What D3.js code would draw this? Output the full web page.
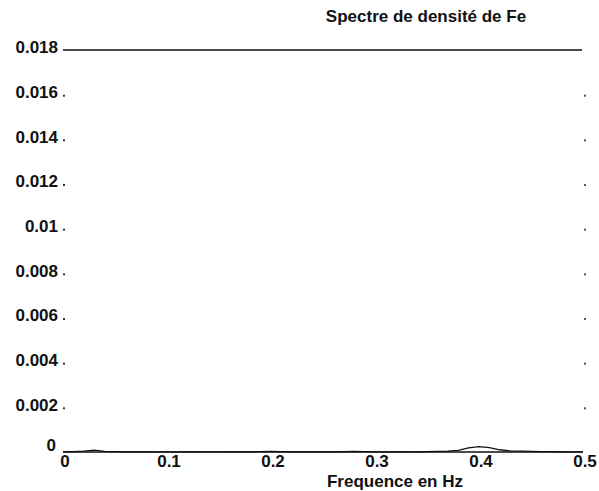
<!DOCTYPE html>
<html><head><meta charset="utf-8">
<script src="https://cdn.jsdelivr.net/npm/d3@7"></script>
<style>body{margin:0;background:#fff}svg{display:block}text{font-family:"Liberation Sans",Arial,sans-serif;fill:#111}</style>
</head><body><svg id="c" width="599" height="491"></svg>
<script>
const titleText = "Spectre de densité de Fe";
const xLabelText = "Frequence en Hz";
const xTicks = [0, 0.1, 0.2, 0.3, 0.4, 0.5];
const xTickLabels = ["0", "0.1", "0.2", "0.3", "0.4", "0.5"];
const yTicks = [0, 0.002, 0.004, 0.006, 0.008, 0.01, 0.012, 0.014, 0.016, 0.018];
const yTickLabels = ["0", "0.002", "0.004", "0.006", "0.008", "0.01", "0.012", "0.014", "0.016", "0.018"];
const freq = [0, 0.01, 0.02, 0.03, 0.04, 0.05, 0.06, 0.07, 0.08, 0.09, 0.10, 0.11, 0.12, 0.13, 0.14, 0.15, 0.16, 0.17, 0.18, 0.19, 0.20, 0.21, 0.22, 0.23, 0.24, 0.25, 0.26, 0.27, 0.28, 0.29, 0.30, 0.31, 0.32, 0.33, 0.34, 0.35, 0.36, 0.37, 0.38, 0.39, 0.40, 0.41, 0.42, 0.43, 0.44, 0.45, 0.46, 0.47, 0.48, 0.49, 0.50];
const psd = [0.00001, 0.00002, 0.00004, 0.00008, 0.00003, 0.00002, 0.00001, 0.00002, 0.00001, 0.00001, 0.00001, 0.00001, 0.00002, 0.00001, 0.00001, 0.00001, 0.00001, 0.00002, 0.00001, 0.00002, 0.00003, 0.00002, 0.00001, 0.00001, 0.00002, 0.00001, 0.00001, 0.00002, 0.00003, 0.00002, 0.00001, 0.00001, 0.00002, 0.00001, 0.00001, 0.00002, 0.00003, 0.00004, 0.00007, 0.00018, 0.00024, 0.00020, 0.00010, 0.00005, 0.00004, 0.00003, 0.00002, 0.00002, 0.00001, 0.00001, 0.00001];

const svg = d3.select("#c");
const x = d3.scaleLinear().domain([0, 0.5]).range([63, 583]);
const y = d3.scaleLinear().domain([0, 0.018]).range([452, 50]);

// top frame line
svg.append("line").attr("x1", x(0)).attr("x2", x(0.5) - 1).attr("y1", y(0.018)).attr("y2", y(0.018))
  .attr("stroke", "#111").attr("stroke-width", 1.6);

// x axis baseline
svg.append("line").attr("x1", x(0)).attr("x2", x(0.5)).attr("y1", y(0)).attr("y2", y(0))
  .attr("stroke", "#111").attr("stroke-width", 1.4);

// y tick dots left and right
svg.selectAll(".ytl").data(yTicks.slice(1, -1)).join("rect")
  .attr("class", "ytl").attr("x", x(0)).attr("y", d => y(d)).attr("width", 2).attr("height", 2).attr("fill", "#333");
svg.selectAll(".ytr").data(yTicks.slice(1, -1)).join("rect")
  .attr("class", "ytr").attr("x", x(0.5) + 1).attr("y", d => y(d)).attr("width", 2).attr("height", 2).attr("fill", "#555");

// y tick labels
svg.selectAll(".ylab").data(yTicks).join("text")
  .attr("class", "ylab")
  .attr("x", (d, i) => i === 0 ? 56 : 58)
  .attr("y", (d, i) => y(d) - (i === 0 ? 5 : 1))
  .attr("text-anchor", "end").attr("dominant-baseline", "middle")
  .style("font-size", "17px").style("font-weight", "bold")
  .text((d, i) => yTickLabels[i]);

// x tick labels
svg.selectAll(".xlab").data(xTicks).join("text")
  .attr("class", "xlab")
  .attr("x", d => x(d) + 2).attr("y", 467)
  .attr("text-anchor", "middle")
  .style("font-size", "17px").style("font-weight", "bold")
  .text((d, i) => xTickLabels[i]);

// data line
const line = d3.line().x((d, i) => x(freq[i])).y(d => y(d));
svg.append("path").datum(psd).attr("d", line)
  .attr("fill", "none").attr("stroke", "#111").attr("stroke-width", 1.3);

// title
svg.append("text").attr("x", 426).attr("y", 22).attr("text-anchor", "middle")
  .style("font-size", "17px").style("font-weight", "bold").text(titleText);

// x label
svg.append("text").attr("x", 395).attr("y", 487).attr("text-anchor", "middle")
  .style("font-size", "17px").style("font-weight", "bold").text(xLabelText);
</script></body></html>
